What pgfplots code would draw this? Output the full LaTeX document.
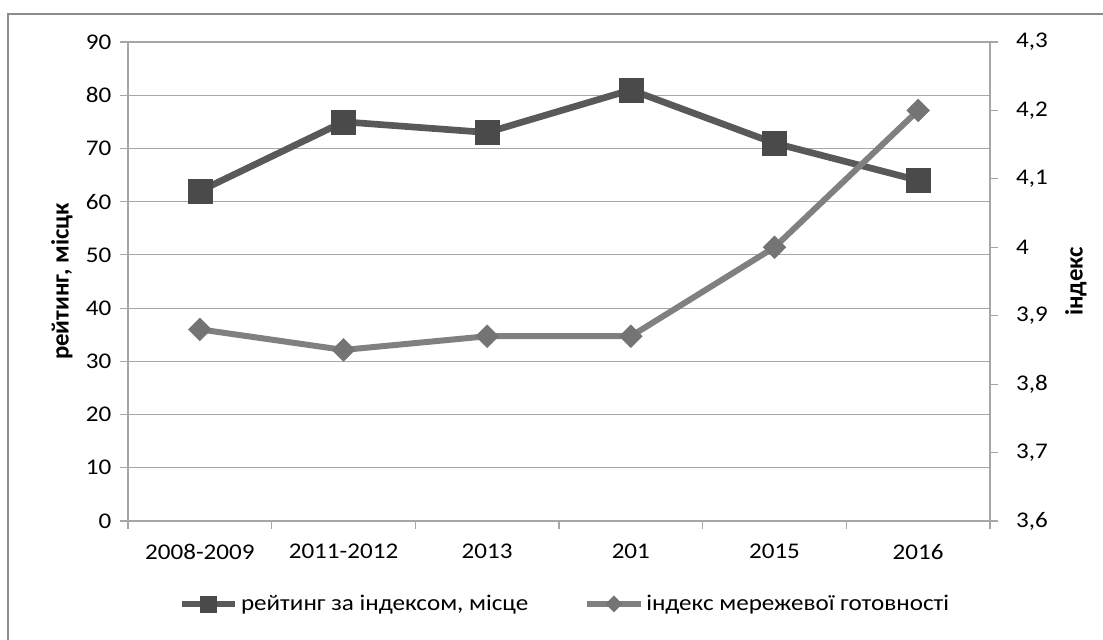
\documentclass[border=0pt]{standalone}
\usepackage{fontspec}
\setmainfont{Carlito}[FakeStretch=1.12]
\newfontfamily\labelfont{Carlito}
\usepackage{pgfplots}
\pgfplotsset{compat=1.18}

\definecolor{framegray}{HTML}{8C8C8C}
\definecolor{gridgray}{HTML}{A6A6A6}
\definecolor{seriesA}{HTML}{595959}
\definecolor{markA}{HTML}{4A4A4A}
\definecolor{seriesB}{HTML}{808080}
\definecolor{markB}{HTML}{747474}

\pgfplotsset{
  base/.style={
    at={(96pt,88.5pt)}, anchor=south west,
    width=646.5pt, height=359.25pt, scale only axis,
    xmin=-0.5, xmax=5.5,
    font=\fontsize{16.8}{19}\selectfont,
    axis line style={gridgray, line width=0.8pt},
    tick style={gridgray, line width=0.8pt},
    tick align=outside, major tick length=6pt,
    /pgf/number format/assume math mode=true,
    clip=false,
  },
  serA/.style={seriesA, line width=5pt, mark=square*, mark size=9pt,
    mark options={fill=markA, draw=markA, line width=0.4pt}},
  serB/.style={seriesB, line width=4.5pt, mark=diamond*, mark size=8.5pt,
    mark options={fill=markB, draw=markB, line width=0.4pt, xscale=1.333}},
}

\begin{document}
\begin{tikzpicture}
\useasboundingbox (0,0) rectangle (827.25pt,479.25pt);
\fill[white] (0,0) rectangle (827.25pt,479.25pt);
\draw[framegray, line width=1.6pt] (6pt,-2pt) -- (6pt,468.75pt) -- (830pt,468.75pt);

% left axis: rating
\begin{axis}[base,
  axis x line*=bottom, axis y line*=left,
  ymin=0, ymax=90, ytick={0,10,...,90},
  ymajorgrids, grid style={gridgray, line width=0.8pt},
  xtick={-0.5,0.5,1.5,2.5,3.5,4.5,5.5},
  x tick label as interval,
  xticklabels={2008-2009,2011-2012,2013,201,2015,2016},
  xticklabel style={yshift=-8pt},
  yticklabel style={xshift=-3pt},
  ylabel={\labelfont\bfseries\fontsize{18.6}{21}\selectfont рейтинг, місцк},
  ylabel style={at={(axis description cs:-0.0766,0.5)}, anchor=center},
]
\addplot[serA] coordinates {
  (0,62) (1,75) (2,73) (3,81) (4,71) (5,64)
};
\end{axis}

% right axis: index
\begin{axis}[base,
  axis y line*=right, axis x line=none,
  ymin=3.6, ymax=4.3, ytick={3.6,3.7,3.8,3.9,4,4.1,4.2,4.3},
  yticklabel style={xshift=10pt, /pgf/number format/.cd, use comma, fixed, precision=1},
  ylabel={\labelfont\bfseries\fontsize{18.6}{21}\selectfont індекс},
  ylabel style={at={(axis description cs:1.0998,0.5)}, anchor=center},
  legend columns=2,
  legend style={at={(0.507,-0.173)}, anchor=center, draw=none, fill=none,
    font=\fontsize{16.8}{19}\selectfont,
    /tikz/every even column/.append style={column sep=40pt},
    inner sep=0pt},
  legend image code/.code={
    \draw[mark repeat=2, mark phase=2, #1, mark size=6pt]
      plot coordinates {(0pt,0pt) (20pt,0pt) (40pt,0pt)};},
]
\addlegendimage{serA}
\addlegendentry{рейтинг за індексом, місце}
\addplot[serB] coordinates {
  (0,3.88) (1,3.85) (2,3.87) (3,3.87) (4,4.00) (5,4.20)
};
\addlegendentry{індекс мережевої готовності}
\end{axis}
\end{tikzpicture}
\end{document}
